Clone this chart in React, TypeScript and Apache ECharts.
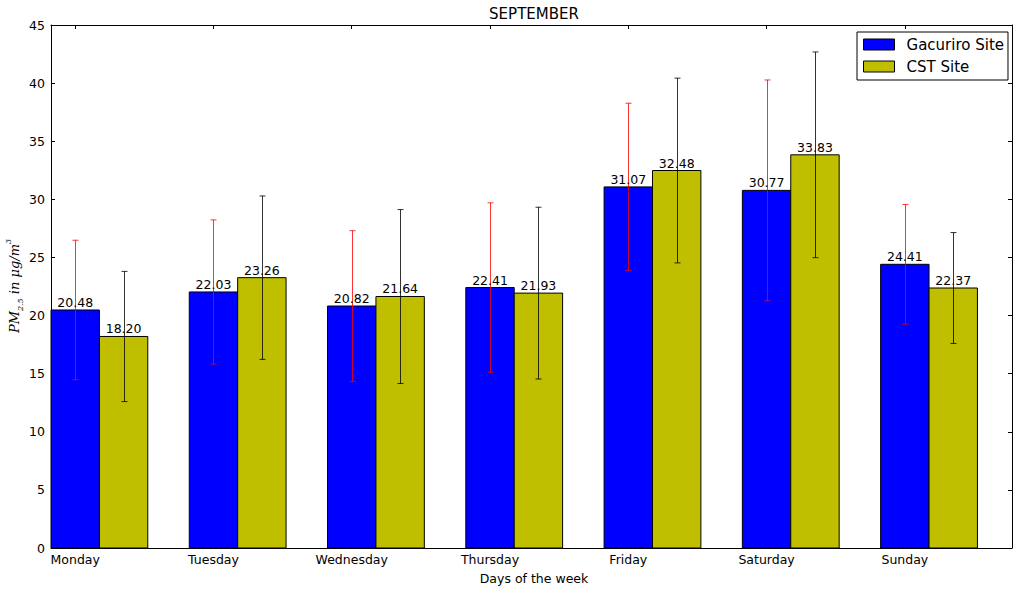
import React, { useEffect, useRef } from "react";
import * as echarts from "echarts";

const days = ["Monday", "Tuesday", "Wednesday", "Thursday", "Friday", "Saturday", "Sunday"];
const gacuriro = [20.48, 22.03, 20.82, 22.41, 31.07, 30.77, 24.41];
const cst = [18.2, 23.26, 21.64, 21.93, 32.48, 33.83, 22.37];
const gacuriroErr = [6.0, 6.2, 6.48, 7.29, 7.2, 9.5, 5.15];
const cstErr = [5.6, 7.03, 7.48, 7.39, 7.95, 8.85, 4.77];
const yTicks = [0, 5, 10, 15, 20, 25, 30, 35, 40, 45];

const BAR_W = 0.35;
// x coordinates are shifted so the axis starts at 0: day i sits at i + BAR_W/2
const SHIFT = BAR_W / 2;
const dayPositions = days.map((_, i) => i + SHIFT);
const FONT = "'DejaVu Sans', sans-serif";
const SERIF = "'DejaVu Serif', serif";

function makeRender(offset: number, fill: string, errColor: string) {
  return (params: any, api: any) => {
    const x = api.value(0) + offset;
    const y = api.value(1);
    const e = api.value(2);
    const p0 = api.coord([x - BAR_W / 2, y]);
    const p1 = api.coord([x + BAR_W / 2, 0]);
    const top = api.coord([x, y + e]);
    const bot = api.coord([x, y - e]);
    const cx = Math.round(top[0]) + 0.5;
    const cap = 3;
    return {
      type: "group",
      children: [
        {
          type: "rect",
          shape: { x: p0[0], y: p0[1], width: p1[0] - p0[0], height: p1[1] - p0[1] },
          style: { fill, stroke: "#000", lineWidth: 1 },
        },
        {
          type: "line",
          shape: { x1: cx, y1: top[1], x2: cx, y2: bot[1] },
          style: { stroke: errColor, lineWidth: 1 },
        },
        {
          type: "line",
          shape: { x1: cx - cap, y1: top[1], x2: cx + cap, y2: top[1] },
          style: { stroke: errColor, lineWidth: 1 },
        },
        {
          type: "line",
          shape: { x1: cx - cap, y1: bot[1], x2: cx + cap, y2: bot[1] },
          style: { stroke: errColor, lineWidth: 1 },
        },
        {
          type: "text",
          x: (p0[0] + p1[0]) / 2,
          y: p0[1] - 1,
          style: {
            text: y.toFixed(2),
            align: "center",
            verticalAlign: "bottom",
            fill: "#000",
            font: `12.5px ${FONT}`,
          },
        },
      ],
    };
  };
}

export default function App() {
  const ref = useRef<HTMLDivElement>(null);
  useEffect(() => {
    if (!ref.current) return;
    const chart = echarts.init(ref.current, undefined, { renderer: "svg" });
    const xCommon = {
      type: "value",
      min: 0,
      max: 6.95,
      interval: 0.05,
      splitLine: { show: false },
      axisLine: { show: true, onZero: false, lineStyle: { color: "#000", width: 1 } },
    };
    const yCommon = {
      type: "value",
      min: 0,
      max: 45,
      interval: 5,
      splitLine: { show: false },
      axisLine: { show: true, onZero: false, lineStyle: { color: "#000", width: 1 } },
      axisTick: { show: true, inside: true, length: 4, lineStyle: { color: "#000" } },
    };
    chart.setOption({
      animation: false,
      backgroundColor: "#fff",
      grid: { left: 51, right: 1, top: 25, bottom: 42, containLabel: false, outerBoundsMode: "none" },
      graphic: [
        {
          type: "text",
          x: 534,
          y: 13.5,
          style: {
            text: "SEPTEMBER",
            align: "center",
            verticalAlign: "middle",
            font: `15px ${FONT}`,
            fill: "#000",
          },
        },
        {
          type: "text",
          x: 534,
          y: 578,
          style: {
            text: "Days of the week",
            align: "center",
            verticalAlign: "middle",
            font: `12.5px ${FONT}`,
            fill: "#000",
          },
        },
        {
          type: "text",
          x: 14,
          y: 286,
          rotation: Math.PI / 2,
          style: {
            text: "{a|PM}{b|2.5}{a| in μg/m}{c|3}",
            align: "center",
            verticalAlign: "middle",
            fill: "#000",
            rich: {
              a: { fontFamily: SERIF, fontStyle: "italic", fontSize: 13, fill: "#000", lineHeight: 20, verticalAlign: "middle" },
              b: { fontFamily: SERIF, fontStyle: "italic", fontSize: 8, fill: "#000", lineHeight: 8, verticalAlign: "bottom" },
              c: { fontFamily: SERIF, fontStyle: "italic", fontSize: 8, fill: "#000", lineHeight: 8, verticalAlign: "top" },
            },
          },
        },
      ],
      legend: {
        orient: "vertical",
        right: 5,
        top: 32,
        padding: [5, 4, 6, 6],
        itemGap: 7,
        itemWidth: 31,
        itemHeight: 11,
        borderColor: "#000",
        borderWidth: 1,
        borderRadius: 0,
        icon: "rect",
        textStyle: { fontFamily: FONT, fontSize: 15, color: "#000", padding: [0, 0, 0, 7] },
        data: [
          { name: "Gacuriro Site", itemStyle: { color: "#0000ff", borderColor: "#000", borderWidth: 1 } },
          { name: "CST Site", itemStyle: { color: "#bfbf00", borderColor: "#000", borderWidth: 1 } },
        ],
      },
      xAxis: [
        {
          ...xCommon,
          position: "bottom",
          axisTick: { show: true, inside: true, length: 4, customValues: dayPositions, lineStyle: { color: "#000" } },
          axisLabel: {
            show: true,
            customValues: dayPositions,
            formatter: (v: number) => days[Math.round(v - SHIFT)] ?? "",
            color: "#000",
            fontFamily: FONT,
            fontSize: 12.5,
            margin: 5,
          },
        },
        {
          ...xCommon,
          position: "top",
          axisTick: { show: true, inside: true, length: 4, customValues: dayPositions, lineStyle: { color: "#000" } },
          axisLabel: { show: false },
        },
      ],
      yAxis: [
        {
          ...yCommon,
          position: "left",
          axisLabel: {
            color: "#000",
            fontFamily: FONT,
            fontSize: 12.5,
            margin: 6,
            formatter: (v: number) => (yTicks.includes(v) ? String(v) : ""),
          },
        },
        {
          ...yCommon,
          position: "right",
          axisLabel: { show: false },
        },
      ],
      series: [
        {
          name: "Gacuriro Site",
          type: "custom",
          xAxisIndex: 0,
          yAxisIndex: 0,
          itemStyle: { color: "#0000ff" },
          encode: { x: 0, y: 1 },
          renderItem: makeRender(0, "#0000ff", "rgba(255,0,0,0.8)"),
          data: gacuriro.map((v, i) => [i + SHIFT, v, gacuriroErr[i]]),
        },
        {
          name: "CST Site",
          type: "custom",
          xAxisIndex: 0,
          yAxisIndex: 0,
          itemStyle: { color: "#bfbf00" },
          encode: { x: 0, y: 1 },
          renderItem: makeRender(BAR_W, "#bfbf00", "rgba(0,0,0,0.8)"),
          data: cst.map((v, i) => [i + SHIFT, v, cstErr[i]]),
        },
      ],
    });
    return () => chart.dispose();
  }, []);
  return <div ref={ref} style={{ position: "absolute", left: 0, top: 0, width: 1013, height: 590 }} />;
}
